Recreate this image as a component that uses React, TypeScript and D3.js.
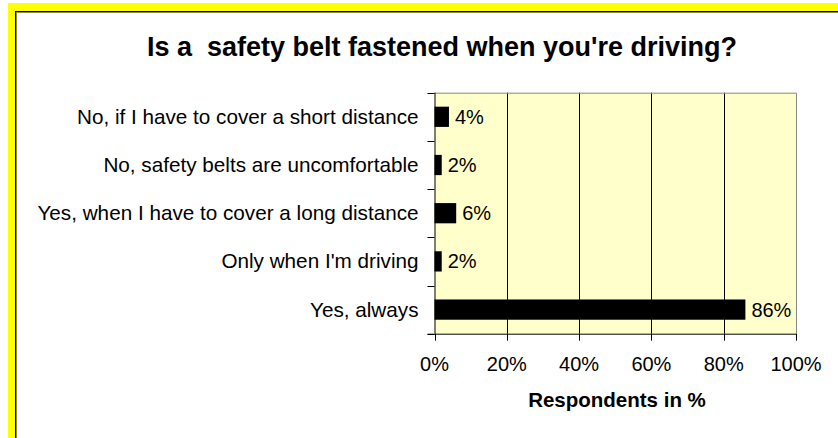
import React, { useEffect, useRef } from 'react';
import * as d3 from 'd3';

// chart data, top to bottom
const categories = [
  'No, if I have to cover a short distance',
  'No, safety belts are uncomfortable',
  'Yes, when I have to cover a long distance',
  "Only when I'm driving",
  'Yes, always',
];
const values = [4, 2, 6, 2, 86];
const xTicks = [0, 20, 40, 60, 80, 100];

const title = "Is a  safety belt fastened when you're driving?";
const xTitle = 'Respondents in %';

const W = 838;
const H = 438;
const FONT = 'Arial, "Liberation Sans", sans-serif';

export default function App() {
  const ref = useRef<SVGSVGElement>(null);

  useEffect(() => {
    const svg = d3.select(ref.current);
    svg.selectAll('*').remove();

    // yellow frame + white panel with dark edge
    svg.append('rect').attr('x', 0).attr('y', 0).attr('width', W).attr('height', H).attr('fill', '#fff');
    svg.append('rect').attr('x', 8).attr('y', 3).attr('width', W - 8).attr('height', H - 3).attr('fill', '#ffff00');
    svg.append('rect').attr('x', 15).attr('y', 11).attr('width', W).attr('height', H).attr('fill', '#fff');
    svg.append('line').attr('x1', 15).attr('x2', W).attr('y1', 11.5).attr('y2', 11.5).attr('stroke', '#000');
    svg.append('line').attr('x1', 15.5).attr('x2', 15.5).attr('y1', 11).attr('y2', H).attr('stroke', '#000');
    svg.append('line').attr('x1', 16).attr('x2', W).attr('y1', 12.5).attr('y2', 12.5).attr('stroke', '#888');
    svg.append('line').attr('x1', 16.5).attr('x2', 16.5).attr('y1', 12).attr('y2', H).attr('stroke', '#888');

    const left = 434.5, right = 796, top = 92.7, bottom = 333.7;

    const x = d3.scaleLinear().domain([0, 100]).range([left, right]);
    const y = d3.scaleBand<string>()
      .domain(categories)
      .range([top, bottom])
      .paddingInner(0.58)
      .paddingOuter(0.29);

    // plot background
    svg.append('rect')
      .attr('x', left).attr('y', top)
      .attr('width', right - left).attr('height', bottom - top)
      .attr('fill', '#ffffcc');

    // gridlines
    svg.append('g')
      .selectAll('line')
      .data(xTicks.slice(1, -1))
      .join('line')
      .attr('x1', d => Math.round(x(d)) + 0.5)
      .attr('x2', d => Math.round(x(d)) + 0.5)
      .attr('y1', top).attr('y2', bottom)
      .attr('stroke', '#000');

    // gray top / right border
    svg.append('path')
      .attr('d', `M${left},${top + 0.5}H${right + 0.5}V${bottom}`)
      .attr('fill', 'none')
      .attr('stroke', '#888');

    // bars
    svg.append('g')
      .selectAll('rect')
      .data(values)
      .join('rect')
      .attr('x', left)
      .attr('y', (d, i) => y(categories[i])!)
      .attr('width', d => x(d) - left)
      .attr('height', y.bandwidth())
      .attr('fill', '#000');

    // value labels
    svg.append('g')
      .selectAll('text')
      .data(values)
      .join('text')
      .attr('x', d => x(d) + 6)
      .attr('y', (d, i) => y(categories[i])! + y.bandwidth() / 2 + 7)
      .attr('font-family', FONT)
      .attr('font-size', 20)
      .text(d => d + '%');

    // y axis
    const step = y.step();
    const yAxis = svg.append('g');
    yAxis.append('line')
      .attr('x1', left + 0.5).attr('x2', left + 0.5)
      .attr('y1', top).attr('y2', bottom)
      .attr('stroke', '#000');
    yAxis.selectAll('line.tick')
      .data(d3.range(categories.length + 1))
      .join('line')
      .attr('class', 'tick')
      .attr('x1', left - 7).attr('x2', left)
      .attr('y1', i => Math.round(top + i * step) + 0.5)
      .attr('y2', i => Math.round(top + i * step) + 0.5)
      .attr('stroke', '#000');
    yAxis.selectAll('text')
      .data(categories)
      .join('text')
      .attr('x', left - 16)
      .attr('y', d => y(d)! + y.bandwidth() / 2 + 7)
      .attr('text-anchor', 'end')
      .attr('font-family', FONT)
      .attr('font-size', 20.7)
      .text(d => d);

    // x axis
    const xAxis = svg.append('g');
    xAxis.append('line')
      .attr('x1', left - 7).attr('x2', right)
      .attr('y1', bottom + 0.5).attr('y2', bottom + 0.5)
      .attr('stroke', '#000');
    xAxis.selectAll('line.tick')
      .data(xTicks)
      .join('line')
      .attr('class', 'tick')
      .attr('x1', d => Math.round(x(d)) + 0.5)
      .attr('x2', d => Math.round(x(d)) + 0.5)
      .attr('y1', bottom).attr('y2', bottom + 7)
      .attr('stroke', '#000');
    xAxis.selectAll('text')
      .data(xTicks)
      .join('text')
      .attr('x', d => x(d))
      .attr('y', 371)
      .attr('text-anchor', 'middle')
      .attr('font-family', FONT)
      .attr('font-size', 20)
      .text(d => d + '%');

    svg.append('text')
      .attr('x', 617)
      .attr('y', 407)
      .attr('text-anchor', 'middle')
      .attr('font-family', FONT)
      .attr('font-size', 20.5)
      .attr('font-weight', 'bold')
      .text(xTitle);

    svg.append('text')
      .attr('x', 442)
      .attr('y', 56)
      .attr('text-anchor', 'middle')
      .attr('font-family', FONT)
      .attr('font-size', 27)
      .attr('font-weight', 'bold')
      .style('white-space', 'pre')
      .text(title);
  }, []);

  return (
    <div style={{ position: 'fixed', left: 0, top: 0 }}>
      <svg ref={ref} width={W} height={H} style={{ display: 'block' }} />
    </div>
  );
}
